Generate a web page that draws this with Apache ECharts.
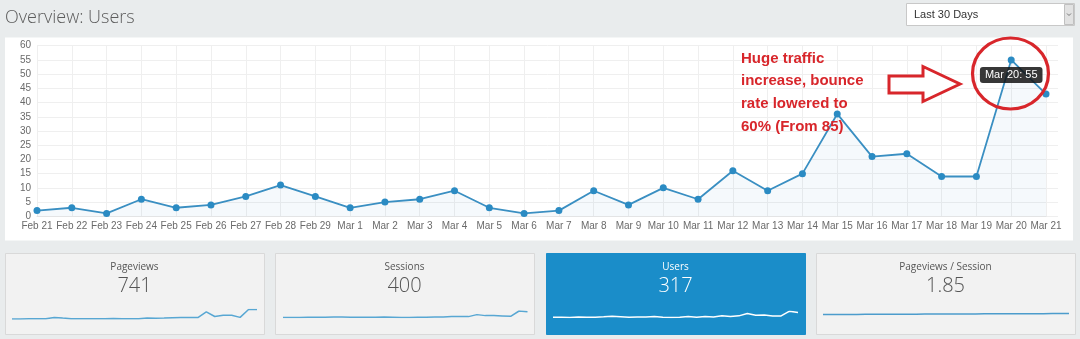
<!DOCTYPE html>
<html>
<head>
<meta charset="utf-8">
<script src="https://cdn.jsdelivr.net/npm/echarts@6/dist/echarts.min.js"></script>
<style>
html,body{margin:0;padding:0;background:#e9eced;}
#c{width:1080px;height:339px;}
</style>
</head>
<body>
<div id="c"></div>
<script>
// ---- data ----
const days = ['Feb 21','Feb 22','Feb 23','Feb 24','Feb 25','Feb 26','Feb 27','Feb 28','Feb 29',
  'Mar 1','Mar 2','Mar 3','Mar 4','Mar 5','Mar 6','Mar 7','Mar 8','Mar 9','Mar 10','Mar 11',
  'Mar 12','Mar 13','Mar 14','Mar 15','Mar 16','Mar 17','Mar 18','Mar 19','Mar 20','Mar 21'];
const users = [2,3,1,6,3,4,7,11,7,3,5,6,9,3,1,2,9,4,10,6,16,9,15,36,21,22,14,14,55,43];
const pageviews = [15,15,16,17,17,24,20,17,16,16,17,17,18,17,17,16,20,19,20,22,23,23,23,55,29,36,36,24,68,68];
const sessions = [10,10,10,11,11,11,12,12,11,11,11,11,12,11,10,10,11,11,12,12,13,13,13,19,16,16,15,14,30,28];
const pagesPerSession = [1.62,1.64,1.66,1.66,1.68,1.70,1.70,1.72,1.73,1.74,1.75,1.76,1.77,1.78,1.79,1.80,1.81,1.82,1.83,1.84,1.85,1.86,1.87,1.88,1.89,1.90,1.91,1.92,1.93,1.94];
const yTicks = {min: 0, max: 60, interval: 5};
const cards = [
  {label: 'Pageviews', value: '741'},
  {label: 'Sessions', value: '400'},
  {label: 'Users', value: '317'},
  {label: 'Pageviews / Session', value: '1.85'}
];
const tipIndex = 28;
const noteLines = ['Huge traffic', 'increase, bounce', 'rate lowered to', '60% (From 85)'];

// ---- chart ----
const chart = echarts.init(document.getElementById('c'), null, {renderer: 'canvas'});
const FONT = '"Open Sans", "Noto Sans", sans-serif';
const SANS = '"Liberation Sans", Arial, sans-serif';

const cardBoxes = [
  {x: 5, w: 259}, {x: 275, w: 259}, {x: 546, w: 259}, {x: 816, w: 259}
];
const graphics = [];
// main panel
graphics.push({type: 'rect', z: -10, shape: {x: 5, y: 37.5, width: 1068, height: 203},
  style: {fill: '#ffffff'}});
// title
graphics.push({type: 'text', z: 10, x: 5, y: 18, style: {text: 'Overview: Users', fontSize: 18,
  fontWeight: 300, fontFamily: FONT, fill: '#5c5c5c', verticalAlign: 'middle'}});
// dropdown
graphics.push({type: 'rect', z: 10, shape: {x: 906.5, y: 3.5, width: 168, height: 22},
  style: {fill: '#ffffff', stroke: '#c8c8c8', lineWidth: 1}});
graphics.push({type: 'rect', z: 11, shape: {x: 1064.5, y: 4.5, width: 9, height: 20},
  style: {fill: '#e2e2e2', stroke: '#c0c0c0', lineWidth: 1}});
graphics.push({type: 'polyline', z: 12, shape: {points: [[1067, 13.5], [1069, 15.5], [1071, 13.5]]},
  style: {stroke: '#777', lineWidth: 1, fill: null}});
graphics.push({type: 'text', z: 12, x: 914, y: 15, style: {text: 'Last 30 Days', fontSize: 11,
  fontFamily: SANS, fill: '#333', verticalAlign: 'middle'}});
// cards
cardBoxes.forEach((b, i) => {
  const active = i === 2;
  graphics.push({type: 'rect', z: -10, shape: {x: b.x + 0.5, y: 253.5, width: b.w, height: 81},
    style: {fill: active ? '#1a8dc9' : '#f2f2f2', stroke: active ? '#1a8dc9' : '#d9d9d9', lineWidth: 1}});
  graphics.push({type: 'text', z: 10, x: b.x + b.w / 2, y: 267.5, style: {text: cards[i].label,
    fontSize: 10, fontFamily: FONT, fill: active ? '#ffffff' : '#555', align: 'center', verticalAlign: 'middle'}});
  graphics.push({type: 'text', z: 10, x: b.x + b.w / 2, y: 286, style: {text: cards[i].value,
    fontSize: 20, fontWeight: 300, fontFamily: FONT, fill: active ? '#ffffff' : '#555', align: 'center', verticalAlign: 'middle'}});
});
// annotation text
noteLines.forEach((t, i) => {
  graphics.push({type: 'text', z: 100, x: 741, y: 58.5 + i * 22.7, style: {text: t, fontSize: 15,
    fontWeight: 'bold', fontFamily: SANS, fill: '#d8262b', verticalAlign: 'middle'}});
});
// arrow
graphics.push({type: 'polygon', z: 100, shape: {points: [[889, 76], [923, 76], [923, 66.5], [960, 84], [923, 101.5], [923, 93], [889, 93]]},
  style: {fill: '#ffffff', stroke: '#d8262b', lineWidth: 3, lineJoin: 'miter'}});
// circle
graphics.push({type: 'circle', z: 100, x: 1010.5, y: 73.5, scaleX: 1.07, shape: {cx: 0, cy: 0, r: 35.5},
  style: {fill: null, stroke: '#d8262b', lineWidth: 3}});

function spark(gridIdx, data, color) {
  return {type: 'line', xAxisIndex: gridIdx, yAxisIndex: gridIdx, data: data, showSymbol: false,
    symbol: 'none', smooth: false, lineStyle: {color: color, width: 1.5}, silent: true};
}
function sparkAxes(gridIdx, yMin, yMax) {
  return {
    x: {type: 'category', gridIndex: gridIdx, data: days, show: false, boundaryGap: false},
    y: {type: 'value', gridIndex: gridIdx, show: false, min: yMin, max: yMax, splitLine: {show: false}}
  };
}
const sp = [
  sparkAxes(2, 'dataMin', 'dataMax'),
  sparkAxes(3, 'dataMin', 'dataMax'),
  sparkAxes(4, 0, 55),
  sparkAxes(5, 0, 6)
];

const option = {
  backgroundColor: '#e9eced',
  animation: false,
  graphic: graphics,
  grid: [
    {left: 37, right: 34, top: 45.7, bottom: 122.7},
    {left: 37, right: 22, top: 45.7, bottom: 122.7},
    {left: 12, right: 823, top: 309.5, bottom: 339 - 319},
    {left: 283, right: 1080 - 527.5, top: 311, bottom: 339 - 317.6},
    {left: 553, right: 1080 - 798, top: 311.2, bottom: 339 - 317.6},
    {left: 823, right: 1080 - 1069, top: 300, bottom: 19}
  ],
  xAxis: [
    {type: 'category', gridIndex: 0, data: days, boundaryGap: false,
      axisLine: {show: true, lineStyle: {color: '#e6e6e6'}}, axisTick: {show: false},
      axisLabel: {color: '#6a6a6a', fontSize: 10, margin: 5, fontFamily: SANS, interval: 0},
      splitLine: {show: true, lineStyle: {color: '#efefef', width: 1}}},
    {type: 'value', gridIndex: 1, show: false, min: 0, max: 1},
    sp[0].x, sp[1].x, sp[2].x, sp[3].x
  ],
  yAxis: [
    {type: 'value', gridIndex: 0, min: yTicks.min, max: yTicks.max, interval: yTicks.interval,
      axisLine: {show: false}, axisTick: {show: false},
      axisLabel: {color: '#6a6a6a', fontSize: 10, margin: 6, fontFamily: SANS},
      splitLine: {show: false}},
    {type: 'value', gridIndex: 1, min: yTicks.min, max: yTicks.max, interval: yTicks.interval,
      axisLine: {show: false}, axisTick: {show: false}, axisLabel: {show: false},
      splitLine: {show: true, lineStyle: {color: '#efefef', width: 1}}},
    sp[0].y, sp[1].y, sp[2].y, sp[3].y
  ],
  series: [
    {type: 'line', xAxisIndex: 0, yAxisIndex: 0, data: users, symbol: 'circle', symbolSize: 7,
      showSymbol: true, z: 2,
      itemStyle: {color: '#2b8bc3'}, lineStyle: {color: '#3a8fc2', width: 1.8},
      areaStyle: {color: 'rgba(60,140,200,0.07)'},
      markPoint: {
        z: 20,
        symbol: 'circle', symbolSize: 1,
        itemStyle: {color: 'rgba(0,0,0,0)'},
        label: {show: true, position: 'inside', offset: [0, 15], color: '#fff', fontSize: 11,
          fontFamily: SANS, backgroundColor: 'rgba(20,20,20,0.85)', padding: [3, 5, 2, 5],
          borderRadius: 3,
          formatter: () => days[tipIndex] + ': ' + users[tipIndex]},
        data: [{coord: [days[tipIndex], users[tipIndex]]}]
      }},
    spark(2, pageviews, '#58a7d3'),
    spark(3, sessions, '#58a7d3'),
    spark(4, users, '#ffffff'),
    spark(5, pagesPerSession, '#4c9ccc')
  ]
};
chart.setOption(option);
</script>
</body>
</html>
